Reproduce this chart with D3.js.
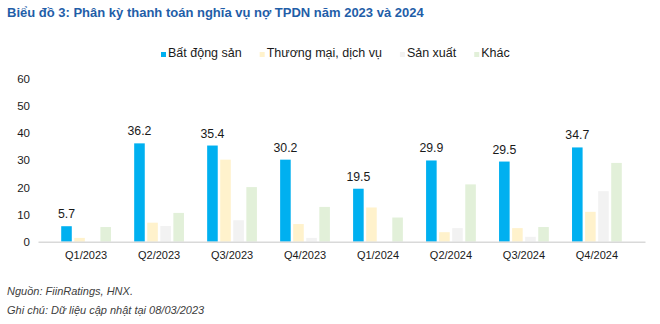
<!DOCTYPE html>
<html>
<head>
<meta charset="utf-8">
<script src="https://cdn.jsdelivr.net/npm/d3@7"></script>
<style>
  body { margin: 0; background: #fff; }
  svg { display: block; font-family: "Liberation Sans", Arial, sans-serif; }
</style>
</head>
<body>
<svg id="chart" width="660" height="324"></svg>
<script>
var w = 660;
var h = 324;

// quarters on the x axis
var quarters = ["Q1/2023", "Q2/2023", "Q3/2023", "Q4/2023",
                "Q1/2024", "Q2/2024", "Q3/2024", "Q4/2024"];

// maturities by sector (nghìn tỷ đồng)
var batDongSan = [5.7, 36.2, 35.4, 30.2, 19.5, 29.9, 29.5, 34.7];
var thuongMai  = [1.4, 7.0, 30.2, 6.5, 12.6, 3.5, 5.0, 11.0];
var sanXuat    = [0.0, 5.8, 7.9, 1.4, 0.0, 5.0, 1.8, 18.6];
var khac       = [5.4, 10.6, 20.1, 12.8, 8.9, 21.1, 5.4, 29.0];

var seriesNames = ["Bất động sản", "Thương mại, dịch vụ", "Sản xuất", "Khác"];
var seriesColors = ["#00b0f0", "#fff2cc", "#f2f2f2", "#e2f0d9"];
var yTicks = [0, 10, 20, 30, 40, 50, 60];

var title = "Biểu đồ 3: Phân kỳ thanh toán nghĩa vụ nợ TPDN năm 2023 và 2024";
var notes = ["Nguồn: FiinRatings, HNX.", "Ghi chú: Dữ liệu cập nhật tại 08/03/2023"];

var allSeries = [batDongSan, thuongMai, sanXuat, khac];
var dataset = quarters.map(function(q, i) {
  return {
    quarter: q,
    values: allSeries.map(function(s, k) { return { key: seriesNames[k], value: s[i] }; })
  };
});

var svg = d3.select("#chart");

var xScale = d3.scaleBand()
  .domain(quarters)
  .range([38, 645])
  .padding(0.318);

var x1 = d3.scaleBand()
  .domain(seriesNames)
  .range([0, xScale.bandwidth()])
  .paddingInner(0.19);

var yScale = d3.scaleLinear()
  .domain([0, 60])
  .range([241.7, 78.7]);

var color = d3.scaleOrdinal(seriesNames, seriesColors);

// title
svg.append("text")
  .attr("x", 7)
  .attr("y", 17)
  .attr("fill", "#1f5ea8")
  .style("font-size", "13px")
  .style("font-weight", "bold")
  .text(title);

// legend
var legend = svg.append("g").style("font-size", "12.5px").attr("fill", "#1a1a1a");
var lx = 161;
seriesNames.forEach(function(name, i) {
  legend.append("rect")
    .attr("x", lx).attr("y", 52)
    .attr("width", 5).attr("height", 5)
    .attr("fill", seriesColors[i]);
  var t = legend.append("text")
    .attr("x", lx + 7).attr("y", 56.5)
    .text(name);
  lx += 7 + t.node().getComputedTextLength() + 18;
});

// y axis labels (no line)
svg.append("g")
  .attr("transform", "translate(30,0)")
  .style("font-size", "11.5px")
  .call(d3.axisLeft(yScale).tickValues(yTicks).tickSize(0).tickPadding(0))
  .call(function(g) { g.select(".domain").remove(); })
  .call(function(g) {
    g.selectAll("text").attr("fill", "#1a1a1a").style("font-family", "Liberation Sans, Arial, sans-serif");
  });

// bars
var groups = svg.append("g")
  .selectAll("g")
  .data(dataset)
  .enter()
  .append("g")
  .attr("transform", function(d) { return "translate(" + xScale(d.quarter) + ",0)"; });

groups.selectAll("rect")
  .data(function(d) { return d.values; })
  .enter()
  .append("rect")
  .attr("x", function(d) { return x1(d.key); })
  .attr("y", function(d) { return yScale(d.value); })
  .attr("width", x1.bandwidth())
  .attr("height", function(d) { return yScale(0) - yScale(d.value); })
  .attr("fill", function(d) { return color(d.key); });

// value labels on the real estate bars
groups.append("text")
  .attr("x", function(d) { return x1(seriesNames[0]) + x1.bandwidth() / 2; })
  .attr("y", function(d) { return yScale(d.values[0].value) - 8; })
  .attr("text-anchor", "middle")
  .attr("fill", "#1a1a1a")
  .style("font-size", "12.3px")
  .text(function(d) { return d3.format(".1f")(d.values[0].value); });

// x axis
svg.append("g")
  .attr("transform", "translate(0," + yScale(0) + ")")
  .style("font-size", "11px")
  .call(d3.axisBottom(xScale).tickSize(0).tickPadding(10))
  .call(function(g) {
    g.select(".domain").attr("stroke", "#d9d9d9").attr("stroke-width", 1.5);
    g.selectAll("text").attr("fill", "#1a1a1a").style("font-family", "Liberation Sans, Arial, sans-serif");
  });

// source notes
svg.append("g")
  .attr("fill", "#404040")
  .style("font-size", "11px")
  .style("font-style", "italic")
  .selectAll("text")
  .data(notes)
  .enter()
  .append("text")
  .attr("x", 7)
  .attr("y", function(d, i) { return 295 + i * 19; })
  .text(function(d) { return d; });
</script>
</body>
</html>
